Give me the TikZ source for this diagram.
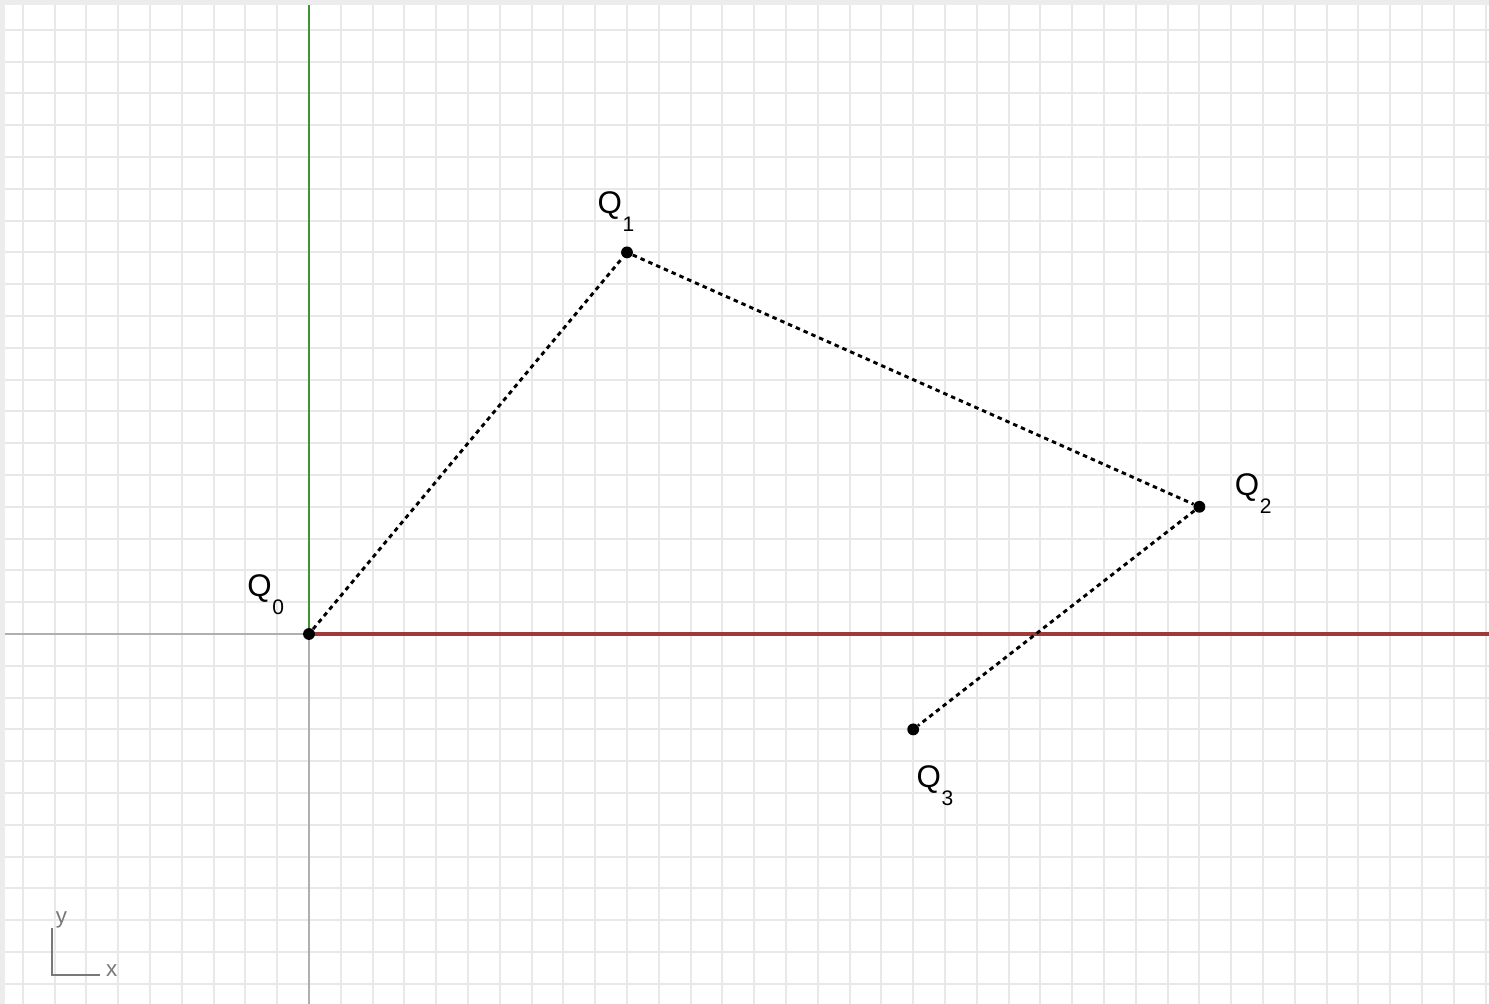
\documentclass[tikz,border=0pt]{standalone}
\usepackage{fontspec}
\setmainfont{Liberation Sans}
\usetikzlibrary{positioning}
\definecolor{gridgray}{RGB}{232,232,232}
\definecolor{edgegray}{RGB}{236,236,236}
\definecolor{axisgray}{RGB}{175,175,175}
\definecolor{xred}{RGB}{158,58,58}
\definecolor{ygreen}{RGB}{62,148,52}
\definecolor{icongray}{RGB}{120,120,120}
\newcommand{\qlab}[1]{Q\kern0.3pt\raisebox{-8pt}{\fontsize{9.4}{10}\selectfont #1}}
\tikzset{
  pt/.style={circle,fill=black,inner sep=0pt,minimum size=5.3pt},
  qline/.style={line width=1.3pt,dash pattern=on 2pt off 1.8pt},
  lbl/.style={inner sep=0pt,anchor=base west,font=\fontsize{14}{15}\selectfont},
  icontxt/.style={inner sep=0pt,text=icongray,font=\fontsize{10}{11}\selectfont}
}
\begin{document}
\begin{tikzpicture}[x=0.5cm,y=0.5cm]
	\def\xL{-9.717};
	\def\xR{37.107};
	\def\yB{-11.635};
	\def\yT{19.937};
	\def\xG{-9.56};
	\def\yG{19.78};
	\useasboundingbox[fill=white] (\xL,\yB) rectangle (\xR,\yT);
	% light frame edge, top and left
	\fill[edgegray] (\xL,\yT) rectangle (\xR,\yG);
	\fill[edgegray] (\xL,\yB) rectangle (\xG,\yT);
	\draw[step=1, gridgray, line width=0.9pt] (\xG,\yB) grid (\xR,\yG);
	% axes
	\coordinate (O) at (0,0);
	\draw[axisgray, line width=0.5pt] (\xG,0) -- (O) -- (0,\yB);
	\draw[xred, line width=1.4pt] (O) -- (\xR,0);
	\draw[ygreen, line width=1.2pt] (O) -- (0,\yG);
	% points
	\node[pt] (q0) at (0,0) {};
	\node[pt] (q1) at (10,12) {};
	\node[pt] (q2) at (28,4) {};
	\node[pt] (q3) at (19,-3) {};
	\draw[qline] (q0) -- (q1) -- (q2) -- (q3);
	\node[lbl] (l0) at ([shift={(-1.95,1.19)}]q0.center) {\qlab{0}};
	\node[lbl] (l1) at ([shift={(-0.94,1.23)}]q1.center) {\qlab{1}};
	\node[lbl] (l2) at ([shift={(1.10,0.35)}]q2.center) {\qlab{2}};
	\node[lbl] (l3) at ([shift={(0.09,-1.82)}]q3.center) {\qlab{3}};
	% little axis icon
	\coordinate (ic) at (-8.08,-10.72);
	\coordinate (iy) at (-8.08,-9.25);
	\coordinate (ix) at (-6.57,-10.72);
	\draw[icongray, line width=0.9pt] (iy) -- (ic) -- (ix);
	\node[icontxt, anchor=south west, xshift=1.5pt] (ty) at (iy) {y};
	\node[icontxt, right=2.5pt of ix, yshift=2pt] (tx) {x};
\end{tikzpicture}
\end{document}
